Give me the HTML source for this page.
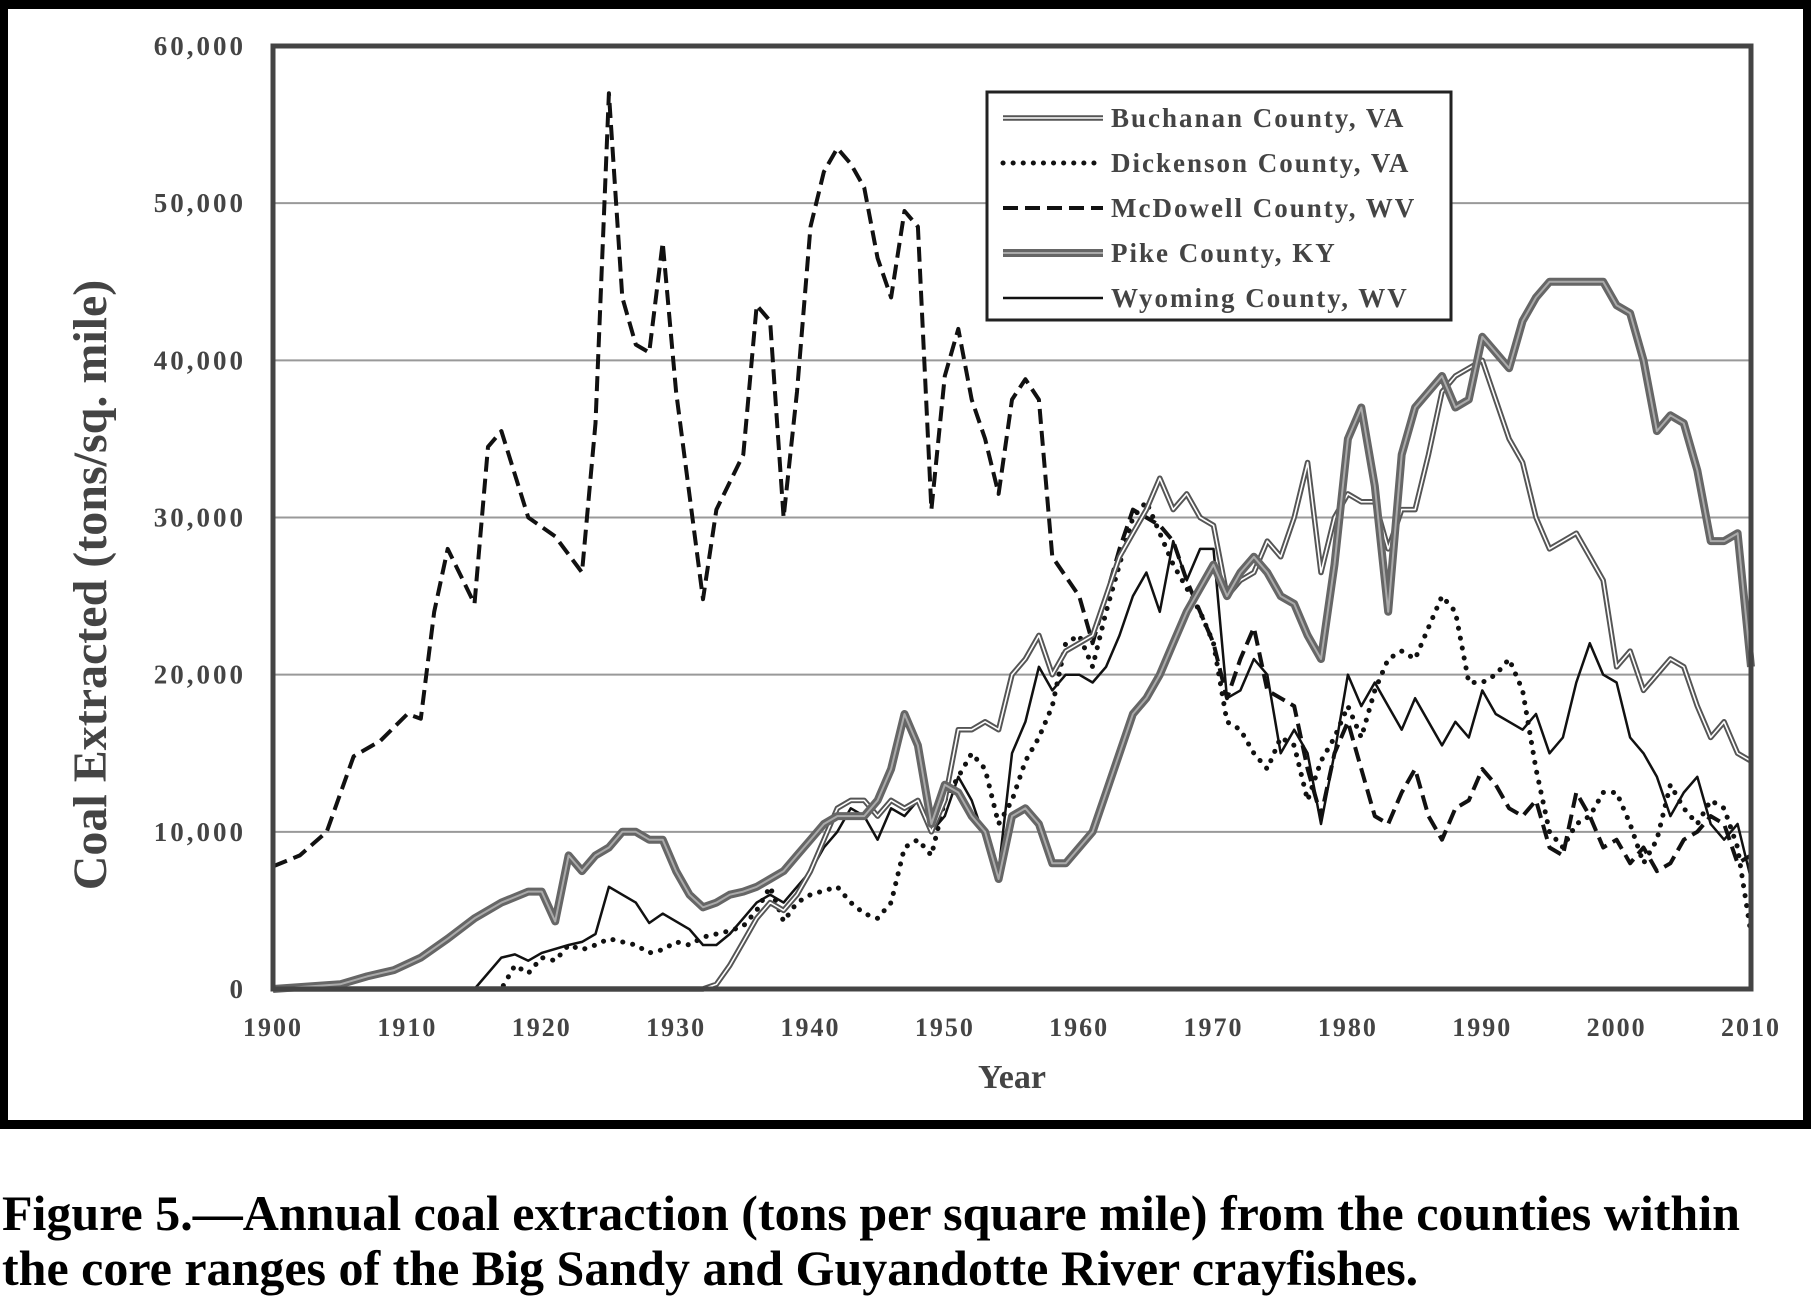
<!DOCTYPE html>
<html><head><meta charset="utf-8"><style>
html,body{margin:0;padding:0;background:#fff;}
body{width:1811px;height:1298px;overflow:hidden;position:relative;font-family:"Liberation Serif",serif;}
#frame{position:absolute;left:0;top:0;width:1795px;height:1111px;border:8px solid #000;border-top-width:9px;border-bottom-width:9px;}
.cap{position:absolute;left:2px;font-weight:bold;font-size:50px;white-space:nowrap;line-height:1;}
</style></head><body>
<div id="frame"></div>
<svg id="chart" width="1811" height="1130" style="position:absolute;left:0;top:0"></svg>
<div class="cap" style="top:1188px">Figure 5.—Annual coal extraction (tons per square mile) from the counties within</div>
<div class="cap" style="top:1243px">the core ranges of the Big Sandy and Guyandotte River crayfishes.</div>
<script>
const yTicks=[0,10000,20000,30000,40000,50000,60000];
const yTickLabels=["0","10,000","20,000","30,000","40,000","50,000","60,000"];
const xTicks=[1900,1910,1920,1930,1940,1950,1960,1970,1980,1990,2000,2010];
const mcdYears=[1900,1902,1904,1906,1908,1910,1911,1912,1913,1915,1916,1917,1919,1921,1923,1924,1925,1926,1927,1928,1929,1930,1932,1933,1935,1936,1937,1938,1939,1940,1941,1942,1943,1944,1945,1946,1947,1948,1949,1950,1951,1952,1953,1954,1955,1956,1957,1958,1960,1961,1962,1963,1964,1966,1967,1968,1970,1971,1972,1973,1974,1975,1976,1977,1978,1979,1980,1981,1982,1983,1984,1985,1986,1987,1988,1989,1990,1991,1992,1993,1994,1995,1996,1997,1998,1999,2000,2001,2002,2003,2004,2005,2006,2007,2008,2009,2010];
const mcdVals=[7800,8500,10000,14800,15800,17500,17200,24000,28000,24500,34500,35500,30000,28800,26500,36000,57000,44000,41000,40500,47500,38000,24800,30500,34000,43500,42500,30000,38000,48500,52000,53500,52500,51000,46500,44000,49500,48500,30500,39000,42000,37500,35000,31500,37500,38800,37500,27500,25000,22000,25000,28000,30500,29500,28500,26000,22000,18500,21000,23000,19000,18500,18000,14000,11000,15000,17000,14000,11000,10500,12500,14000,11000,9500,11500,12000,14000,13000,11500,11000,12000,9000,8500,12500,11000,9000,9500,8000,9000,7500,8000,9500,10000,11000,10500,8000,8500];
const dicYears=[1900,1917,1918,1919,1920,1921,1922,1923,1924,1925,1926,1927,1928,1929,1930,1931,1932,1933,1934,1935,1936,1937,1938,1939,1940,1942,1943,1944,1945,1946,1947,1948,1949,1950,1951,1952,1953,1954,1955,1956,1957,1958,1959,1960,1961,1962,1963,1964,1965,1966,1967,1968,1969,1970,1971,1972,1973,1974,1975,1976,1977,1978,1979,1980,1981,1982,1983,1984,1985,1986,1987,1988,1989,1990,1991,1992,1993,1994,1995,1996,1997,1998,1999,2000,2001,2002,2003,2004,2005,2006,2007,2008,2009,2010];
const dicVals=[0,0,1500,1000,2000,1800,2800,2500,2800,3200,3000,2800,2300,2500,3000,2800,3300,3500,3700,4000,5000,6500,4300,5500,6000,6500,5500,4800,4500,5500,9000,9500,8500,12000,13500,15000,14000,10500,12000,14500,16000,18000,22000,22500,20500,24000,27000,30000,31000,29000,27000,25500,24000,22000,17000,16500,15000,14000,16000,15500,12000,14500,16000,18000,16000,19000,21000,21500,21000,23000,25000,24000,19500,19500,20000,21000,19000,14000,10000,9000,10500,11000,12500,12500,10500,8000,9500,13000,11500,10500,12000,11500,9000,3500];
const wyoYears=[1900,1915,1917,1918,1919,1920,1922,1923,1924,1925,1926,1927,1928,1929,1930,1931,1932,1933,1934,1935,1936,1937,1938,1939,1940,1941,1942,1943,1944,1945,1946,1947,1948,1949,1950,1951,1952,1953,1954,1955,1956,1957,1958,1959,1960,1961,1962,1963,1964,1965,1966,1967,1968,1969,1970,1971,1972,1973,1974,1975,1976,1977,1978,1979,1980,1981,1982,1983,1984,1985,1986,1987,1988,1989,1990,1991,1992,1993,1994,1995,1996,1997,1998,1999,2000,2001,2002,2003,2004,2005,2006,2007,2008,2009,2010];
const wyoVals=[0,0,2000,2200,1800,2300,2800,3000,3500,6500,6000,5500,4200,4800,4300,3800,2800,2800,3500,4500,5500,6000,5500,6500,7500,9000,10000,11500,11000,9500,11500,11000,12000,10000,11000,13500,12000,9500,7500,15000,17000,20500,19000,20000,20000,19500,20500,22500,25000,26500,24000,28500,26000,28000,28000,18500,19000,21000,20000,15000,16500,15000,10500,15000,20000,18000,19500,18000,16500,18500,17000,15500,17000,16000,19000,17500,17000,16500,17500,15000,16000,19500,22000,20000,19500,16000,15000,13500,11000,12500,13500,10500,9500,10500,7000];
const bucYears=[1900,1932,1933,1934,1935,1936,1937,1938,1939,1940,1941,1942,1943,1944,1945,1946,1947,1948,1949,1950,1951,1952,1953,1954,1955,1956,1957,1958,1959,1960,1961,1962,1963,1964,1965,1966,1967,1968,1969,1970,1971,1972,1973,1974,1975,1976,1977,1978,1979,1980,1981,1982,1983,1984,1985,1986,1987,1988,1989,1990,1991,1992,1993,1994,1995,1996,1997,1998,1999,2000,2001,2002,2003,2004,2005,2006,2007,2008,2009,2010];
const bucVals=[0,0,300,1500,3000,4500,5500,5000,6000,7500,9500,11500,12000,12000,11000,12000,11500,12000,10000,12000,16500,16500,17000,16500,20000,21000,22500,20000,21500,22000,22500,25000,27500,29000,30500,32500,30500,31500,30000,29500,25000,26000,26500,28500,27500,30000,33500,26500,30000,31500,31000,31000,28000,30500,30500,34000,38000,39000,39500,40000,37500,35000,33500,30000,28000,28500,29000,27500,26000,20500,21500,19000,20000,21000,20500,18000,16000,17000,15000,14500];
const pikYears=[1900,1905,1907,1909,1911,1913,1915,1917,1919,1920,1921,1922,1923,1924,1925,1926,1927,1928,1929,1930,1931,1932,1933,1934,1935,1936,1937,1938,1939,1940,1941,1942,1943,1944,1945,1946,1947,1948,1949,1950,1951,1952,1953,1954,1955,1956,1957,1958,1959,1960,1961,1962,1963,1964,1965,1966,1967,1968,1969,1970,1971,1972,1973,1974,1975,1976,1977,1978,1979,1980,1981,1982,1983,1984,1985,1986,1987,1988,1989,1990,1991,1992,1993,1994,1995,1996,1997,1998,1999,2000,2001,2002,2003,2004,2005,2006,2007,2008,2009,2010];
const pikVals=[0,300,800,1200,2000,3200,4500,5500,6200,6200,4300,8500,7500,8500,9000,10000,10000,9500,9500,7500,6000,5200,5500,6000,6200,6500,7000,7500,8500,9500,10500,11000,11000,11000,12000,14000,17500,15500,10500,13000,12500,11000,10000,7000,11000,11500,10500,8000,8000,9000,10000,12500,15000,17500,18500,20000,22000,24000,25500,27000,25000,26500,27500,26500,25000,24500,22500,21000,27000,35000,37000,32000,24000,34000,37000,38000,39000,37000,37500,41500,40500,39500,42500,44000,45000,45000,45000,45000,45000,43500,43000,40000,35500,36500,36000,33000,28500,28500,29000,20500];

const NS="http://www.w3.org/2000/svg";
const svg=document.getElementById('chart');
const L=273,R=1751,T=46,B=989;
const xS=y=>L+(y-1900)/(2010-1900)*(R-L);
const yS=v=>B-v/60000*(B-T);
function mk(tag,attrs,parent){const e=document.createElementNS(NS,tag);for(const k in attrs)e.setAttribute(k,attrs[k]);(parent||svg).appendChild(e);return e;}
const F='"Liberation Serif",serif';
yTicks.forEach((v,i)=>{
  if(v>0){const g=mk('line',{x1:L,x2:R,y1:yS(v),y2:yS(v),stroke:'#999','stroke-width':2});
  
  }
  const t=mk('text',{x:246,y:yS(v)+9,'text-anchor':'end','font-family':F,'font-weight':'bold','font-size':27,'letter-spacing':3,fill:'#444'});
  t.textContent=yTickLabels[i];
  
  
});
xTicks.forEach(x=>{
  const t=mk('text',{x:xS(x),y:1036,'text-anchor':'middle','font-family':F,'font-weight':'bold','font-size':26,'letter-spacing':2,fill:'#444'});
  t.textContent=x;
  
  
});
const yt=mk('text',{x:0,y:0,transform:'translate(106,585) rotate(-90)','text-anchor':'middle','font-family':F,'font-weight':'bold','font-size':48,fill:'#444'});
yt.textContent='Coal Extracted (tons/sq. mile)';


const xt=mk('text',{x:(L+R)/2,y:1088,'text-anchor':'middle','font-family':F,'font-weight':'bold','font-size':34,fill:'#444'});
xt.textContent='Year';


function pts(ys,vs){return ys.map((y,i)=>xS(y).toFixed(1)+','+yS(vs[i]).toFixed(1)).join(' ');}
function series(name,ys,vs,styles){
  const g=mk('g',{});
  
  
  styles.forEach(s=>{mk('polyline',Object.assign({points:pts(ys,vs),fill:'none','stroke-linejoin':'round'},s),g);});
}
series('series-mcdowell',mcdYears,mcdVals,[{stroke:'#111','stroke-width':4,'stroke-dasharray':'15,7'}]);
series('series-dickenson',dicYears,dicVals,[{stroke:'#111','stroke-width':5,'stroke-dasharray':'0.1,10','stroke-linecap':'round'}]);
series('series-wyoming',wyoYears,wyoVals,[{stroke:'#111','stroke-width':2.5}]);
series('series-buchanan',bucYears,bucVals,[{stroke:'#555','stroke-width':5.5},{stroke:'#fff','stroke-width':1.6}]);
series('series-pike',pikYears,pikVals,[{stroke:'#666','stroke-width':8},{stroke:'#aaa','stroke-width':2}]);
const ax=mk('rect',{x:L,y:T,width:R-L,height:B-T,fill:'none',stroke:'#444','stroke-width':5});


const lg=mk('g',{});


mk('rect',{x:987,y:92,width:464,height:228,fill:'#fff',stroke:'#222','stroke-width':3},lg);
const legNames=['Buchanan County, VA','Dickenson County, VA','McDowell County, WV','Pike County, KY','Wyoming County, WV'];
const legStyles=[[{stroke:'#555','stroke-width':5.5},{stroke:'#fff','stroke-width':1.6}],[{stroke:'#111','stroke-width':5,'stroke-dasharray':'0.1,10','stroke-linecap':'round'}],[{stroke:'#111','stroke-width':4,'stroke-dasharray':'15,7'}],[{stroke:'#666','stroke-width':8},{stroke:'#aaa','stroke-width':2}],[{stroke:'#111','stroke-width':2.5}]];
legNames.forEach((n,i)=>{
  const y=118+i*45;
  const e=mk('g',{},lg);
  
  
  legStyles[i].forEach(s=>mk('line',Object.assign({x1:1003,x2:1103,y1:y,y2:y},s),e));
  const t=mk('text',{x:1111,y:y+9,'font-family':F,'font-weight':'bold','font-size':27,'letter-spacing':2,fill:'#444'},e);
  t.textContent=n;
});
</script>
</body></html>
